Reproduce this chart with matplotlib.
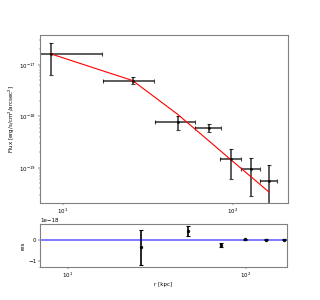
import numpy as np
import matplotlib
matplotlib.use("Agg")
import matplotlib.pyplot as plt

# radial profile data
r = [8.5, 25.7, 47.3, 72.6, 98.0, 128.0, 163.0]
r_err = [8.4, 8.6, 12.7, 13.0, 13.5, 17.0, 18.0]
flux = [1.64e-17, 4.97e-18, 7.7e-19, 6.08e-19, 1.46e-19, 9.4e-20, 5.6e-20]
flux_err = [1.0e-17, 0.8e-18, 2.3e-19, 1.2e-19, 0.86e-19, 0.65e-19, 0.57e-19]
model = [1.64e-17, 4.97e-18, 1.10e-18, 3.3e-19, 1.41e-19, 6.7e-20, 3.4e-20]

# residuals
r_res = [25.7, 47.2, 72.6, 99.0, 129.0, 163.0]
res = [-0.35e-18, 0.40e-18, -0.24e-18, 0.02e-18, 0.0, 0.0]
res_err = [0.82e-18, 0.24e-18, 0.11e-18, 0.04e-18, 0.03e-18, 0.03e-18]

fig = plt.figure(figsize=(8, 7.5), dpi=40)
ax1 = fig.add_axes([0.125, 0.323, 0.775, 0.56])
ax2 = fig.add_axes([0.125, 0.11, 0.772, 0.143])

ax1.errorbar(r, flux, xerr=r_err, yerr=flux_err, fmt='o', color='k',
             ms=4, capsize=4, elinewidth=3, capthick=2, alpha=0.75)
ax1.plot(r, model, color='red', lw=2)
ax1.set_xscale('log')
ax1.set_yscale('log')
ax1.set_xlim(7.33, 211)
ax1.set_ylim(2.07e-20, 3.8e-17)
ax1.set_ylabel('Flux [erg/s/cm$^2$/arcsec$^2$]')

ax2.errorbar(r_res, res, yerr=res_err, fmt='o', color='k', ms=5, capsize=4,
             elinewidth=3, capthick=2)
ax2.axhline(0, color='blue', alpha=0.6, lw=3)
ax2.set_xscale('log')
ax2.set_xlim(6.98, 170)
ax2.set_ylabel('res')
ax2.set_xlabel('r [kpc]')

for ax in (ax1, ax2):
    for s in ax.spines.values():
        s.set_color('0.5')
        s.set_linewidth(2)

fig.savefig('out.png', dpi=40)
